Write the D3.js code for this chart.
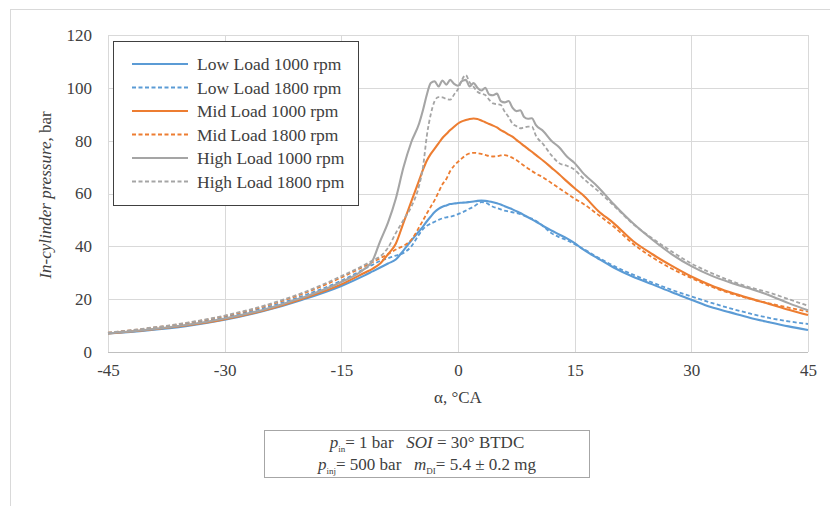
<!DOCTYPE html>
<html><head><meta charset="utf-8">
<script src="https://cdn.jsdelivr.net/npm/d3@7/dist/d3.min.js"></script>
<style>
body{margin:0;background:#fff;}
svg text{font-family:"Liberation Serif","Times New Roman","DejaVu Serif",serif;fill:#404040;}
</style></head>
<body><svg id="c" width="830" height="506"></svg>
<script>
// crank angle, deg
const angles = [-45,-40,-35,-30,-25,-20,-15,-12,-11,-10,-9,-8,-7,-6,-5,
  -4.5,-4,-3.5,-3,-2.5,-2,-1.5,-1,-0.5,0,0.5,1,1.5,2,2.5,3,3.5,4,4.5,5,5.5,6,6.5,7,7.5,8,8.5,9,9.5,10,
  11,12,13,14,15,16,18,20,22.5,25,27.5,30,32.5,35,37.5,40,42.5,45];

const lowLoad1000 = [7,8.2,9.8,12.2,15.5,19.8,25,29,30.5,32,33.5,35,38.5,42.2,45.7,
  47.5,49.5,51.3,53,54.2,55,55.5,56,56.2,56.4,56.5,56.6,56.8,57,57.2,57.3,57.2,57,56.7,56.3,55.8,55.2,54.6,54,53.3,52.6,51.8,51,50.2,49.4,
  47.6,46,44.5,43,41.2,39,35.4,32,28.5,25.6,22.6,19.8,17,15,13,11.3,9.7,8.3];

const lowLoad1800 = [7.2,8.7,10.6,13.2,16.6,21.2,27,31.5,33,34.5,35.5,36.5,37.5,40,44.5,
  46.5,47.8,48.6,49.3,50,50.6,51,51.2,51.6,52.2,52.8,53.5,54.3,55,56,56.7,56.6,55.8,55,54.5,54,53.5,53.2,52.9,52.6,52.2,51.6,51,50.5,49.7,
  47.5,45,43.5,42.3,40.8,39.2,35.8,32.6,29.3,26.3,23.5,21,18.7,16.5,14.6,12.9,11.6,10.6];

const midLoad1000 = [7,8.3,10,12.4,15.7,20.2,25.6,30,31.5,33.5,37,41,49,57,65,
  69,72.5,75,77,79,81,82.5,84,85.3,86.5,87.3,87.8,88.2,88.4,88.2,87.6,87,86.3,85.7,85,84,83.2,82.3,81.5,80.3,79.2,78,76.9,75.8,74.6,
  72.3,69.8,67.3,64.6,62,59.6,53.5,48.8,42,37,32.6,28.6,25.3,22.6,20.3,18.2,16,14];

const midLoad1800 = [7.3,8.9,10.9,13.6,17.2,22,28.2,32.5,34,35.5,37,38.8,40.2,42.5,47.2,
  49.8,52.5,55,57.5,60.5,63.5,65.5,68.5,70.5,72,73.3,74.5,75.2,75.4,75.3,75,74.6,74.2,74,74.1,74.4,74.5,74.2,73.5,72.7,71.6,70.5,69.5,68.5,67.6,
  66,64,62,60,58,56.3,52,47.5,41,35.8,31.5,28,24.8,22.2,20.2,18.4,16.8,15.3];

const highLoad1000 = [7,8.4,10.2,12.7,16,20.6,26.5,31.5,34.5,42,49,58,70,79.5,86.5,
  91.6,97.5,101.8,102.5,100.5,102.8,101.2,103,101.5,100.8,102.5,103,100.5,101.8,100,99,100,97.5,97.2,97.8,95,94.5,95,92.5,91.2,91.5,89,88.3,88.5,86,
  83.5,80,77.5,74,71.5,68,62.5,56,48.7,42.5,37,32.5,29,26.3,24,21.5,18.5,15.8];

const highLoad1800 = [7.3,9,11,13.8,17.5,22.4,28.7,33,34.6,36.2,39.5,45,50,55,63,
  70,82,90,95,96.5,96.4,95.8,95.5,97.5,99.5,103,104.8,102,100.4,98.5,97.8,97.3,95.5,94.1,93.8,93.5,91,89,86.5,85.5,84.7,85,85.3,85.3,82,
  78.5,74.5,71.5,70.5,69,66,61,55.5,48.5,43,38,33.5,30,27,24.5,22.5,20,17.5];

const seriesNames = ["Low Load 1000 rpm","Low Load 1800 rpm","Mid Load 1000 rpm","Mid Load 1800 rpm","High Load 1000 rpm","High Load 1800 rpm"];
const seriesValues = [lowLoad1000,lowLoad1800,midLoad1000,midLoad1800,highLoad1000,highLoad1800];
const seriesColors = ["#5b9bd5","#5b9bd5","#ed7d31","#ed7d31","#a5a5a5","#a5a5a5"];
const seriesDashed = [false,true,false,true,false,true];

const xTicks = [-45,-30,-15,0,15,30,45];
const yTicks = [0,20,40,60,80,100,120];

const FONT = "'Liberation Serif','Times New Roman','DejaVu Serif',serif";
const svg = d3.select("#c");
const L=108,R=808,T=35,B=352;
const x = d3.scaleLinear().domain([-45,45]).range([L,R]);
const y = d3.scaleLinear().domain([0,120]).range([B,T]);

// outer chart border
svg.append("rect").attr("x",10.5).attr("y",9.5).attr("width",840).attr("height",520)
  .attr("fill","none").attr("stroke","#d9d9d9");

// grid
svg.append("g").selectAll("line").data(yTicks).join("line")
  .attr("x1",L).attr("x2",R).attr("y1",d=>Math.round(y(d))+0.5).attr("y2",d=>Math.round(y(d))+0.5)
  .attr("stroke",d=>d===0?"#bfbfbf":"#d9d9d9").attr("stroke-width",1);
svg.append("g").selectAll("line").data(xTicks).join("line")
  .attr("y1",T).attr("y2",B).attr("x1",d=>Math.round(x(d))+0.5).attr("x2",d=>Math.round(x(d))+0.5)
  .attr("stroke","#d9d9d9").attr("stroke-width",1);

// axes labels via d3 axes
const xAxis = svg.append("g").attr("transform",`translate(0,${B})`)
  .call(d3.axisBottom(x).tickValues(xTicks).tickSize(0).tickPadding(12).tickFormat(d=>d));
xAxis.attr("font-family",FONT).attr("font-size",17);
xAxis.select(".domain").remove();
xAxis.selectAll("text").attr("fill","#404040");
const yAxis = svg.append("g").attr("transform",`translate(${L},0)`)
  .call(d3.axisLeft(y).tickValues(yTicks).tickSize(0).tickPadding(16).tickFormat(d=>d));
yAxis.attr("font-family",FONT).attr("font-size",17);
yAxis.select(".domain").remove();
yAxis.selectAll("text").attr("fill","#404040");

// axis titles
svg.append("text").attr("x",458).attr("y",403).attr("text-anchor","middle")
  .style("font-size","17px").text("α, °CA");
const yt = svg.append("text").attr("transform","translate(51,195) rotate(-90)")
  .attr("text-anchor","middle").style("font-size","17px");
yt.append("tspan").style("font-style","italic").text("In-cylinder pressure,");
yt.append("tspan").text(" bar");

// lines
const line = d3.line().x(d=>x(d[0])).y(d=>y(d[1])).curve(d3.curveMonotoneX);
const plot = svg.append("g");
seriesValues.forEach((vals,i)=>{
  plot.append("path").datum(angles.map((a,j)=>[a,vals[j]]))
    .attr("d",line).attr("fill","none").attr("stroke",seriesColors[i])
    .attr("stroke-width",seriesDashed[i]?1.8:2.1)
    .attr("stroke-dasharray",seriesDashed[i]?"4,2.5":null);
});

// legend
const lg = svg.append("g");
lg.append("rect").attr("x",113.5).attr("y",41.5).attr("width",245).attr("height",164)
  .attr("fill","#fff").attr("stroke","#404040").attr("stroke-width",1);
seriesNames.forEach((n,i)=>{
  const yy = 64 + i*23.5;
  lg.append("line").attr("x1",132).attr("x2",188).attr("y1",yy).attr("y2",yy)
    .attr("stroke",seriesColors[i]).attr("stroke-width",seriesDashed[i]?1.8:2.1)
    .attr("stroke-dasharray",seriesDashed[i]?"4,2.5":null);
  lg.append("text").attr("x",197).attr("y",yy).attr("dy","0.35em")
    .style("font-size","17.5px").text(n);
});

// annotation box
const ab = svg.append("g");
ab.append("rect").attr("x",264.5).attr("y",430.5).attr("width",325).attr("height",47)
  .attr("fill","#fff").attr("stroke","#a6a6a6").attr("stroke-width",1);
const t1 = ab.append("text").attr("x",427).attr("y",448).attr("text-anchor","middle").style("font-size","17px");
t1.append("tspan").style("font-style","italic").text("p");
t1.append("tspan").attr("dy",4).style("font-size","9px").text("in");
t1.append("tspan").attr("dy",-4).text("= 1 bar\u00a0\u00a0\u00a0");
t1.append("tspan").style("font-style","italic").text("SOI");
t1.append("tspan").text(" = 30° BTDC");
const t2 = ab.append("text").attr("x",427).attr("y",470).attr("text-anchor","middle").style("font-size","17px");
t2.append("tspan").style("font-style","italic").text("p");
t2.append("tspan").attr("dy",4).style("font-size","9px").text("inj");
t2.append("tspan").attr("dy",-4).text("= 500 bar\u00a0\u00a0\u00a0");
t2.append("tspan").style("font-style","italic").text("m");
t2.append("tspan").attr("dy",4).style("font-size","9px").text("DI");
t2.append("tspan").attr("dy",-4).text("= 5.4 ± 0.2 mg");
</script></body></html>
